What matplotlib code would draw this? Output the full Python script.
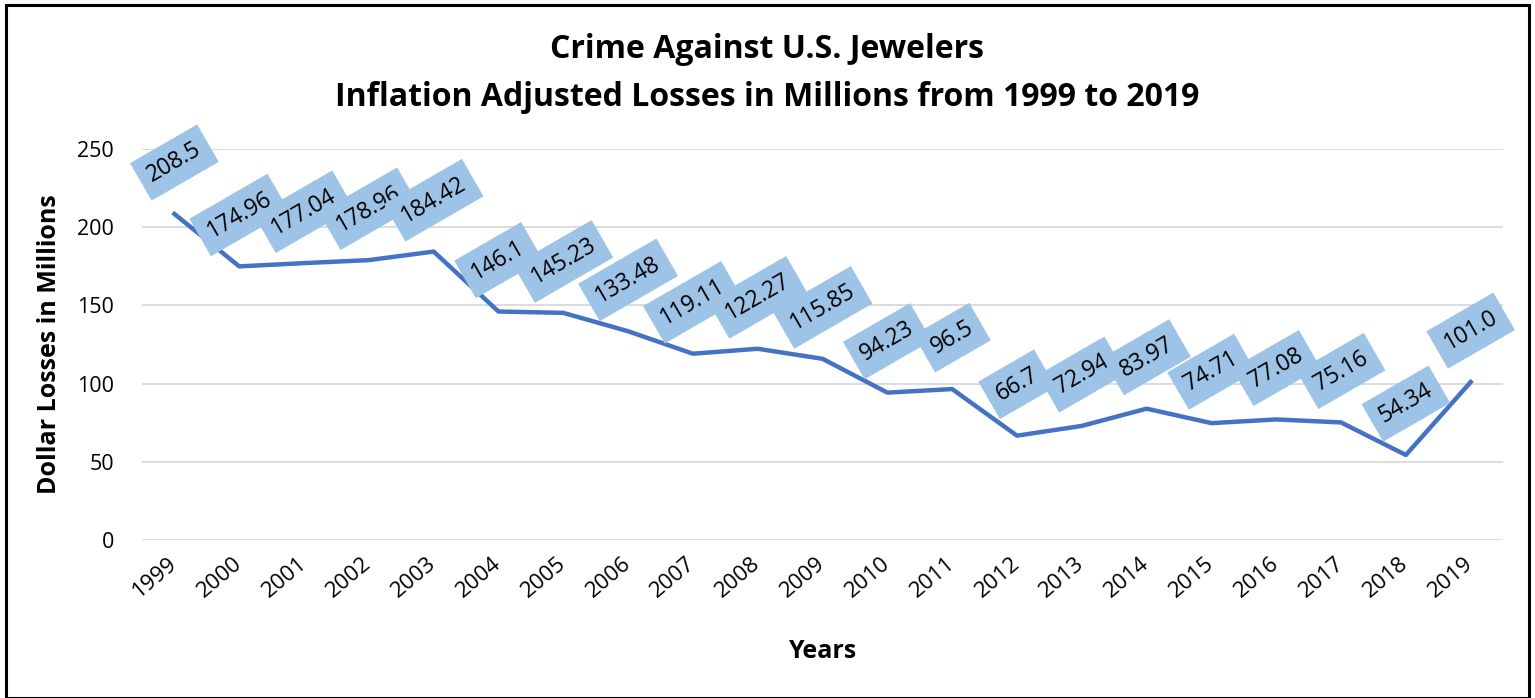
import matplotlib.pyplot as plt
from matplotlib.patches import Rectangle

years = ['1999', '2000', '2001', '2002', '2003', '2004', '2005', '2006', '2007', '2008',
         '2009', '2010', '2011', '2012', '2013', '2014', '2015', '2016', '2017', '2018', '2019']
losses = [208.5, 174.96, 177.04, 178.96, 184.42, 146.1, 145.23, 133.48, 119.11, 122.27,
          115.85, 94.23, 96.5, 66.7, 72.94, 83.97, 74.71, 77.08, 75.16, 54.34, 101.0]
point_labels = ['208.5', '174.96', '177.04', '178.96', '184.42', '146.1', '145.23', '133.48',
                '119.11', '122.27', '115.85', '94.23', '96.5', '66.7', '72.94', '83.97',
                '74.71', '77.08', '75.16', '54.34', '101.0']
yticks = [0, 50, 100, 150, 200, 250]

plt.rcParams['font.family'] = ['Open Sans', 'DejaVu Sans']

fig = plt.figure(figsize=(15.35, 6.98), dpi=100)
ax = fig.add_axes([0.0925, 0.2264, 0.8867, 0.5601])

x = list(range(len(years)))
ax.plot(x, losses, color='#4472C4', linewidth=3.2, solid_joinstyle='round', zorder=3)

for xi, yi, lab in zip(x, losses, point_labels):
    ax.annotate(lab, (xi, yi), xytext=(0, 37), textcoords='offset points',
                ha='center', va='center', rotation=30, fontsize=16.5, color='black',
                bbox=dict(boxstyle='square,pad=0.42', fc='#9DC3E6', ec='none'), zorder=4)

ax.set_xlim(-0.5, len(years) - 0.5)
ax.set_ylim(0, 250)
ax.set_yticks(yticks)
ax.set_xticks(x)
ax.set_xticklabels(years, rotation=40, ha='right', va='center', rotation_mode='anchor', fontsize=16)
ax.tick_params(axis='y', labelsize=15.5, length=0, pad=20)
ax.tick_params(axis='x', length=0, pad=15)
ax.grid(axis='y', color='#D9D9D9', linewidth=1.3)
ax.set_axisbelow(True)
for s in ax.spines.values():
    s.set_visible(False)

ax.set_ylabel('Dollar Losses in Millions', fontsize=18, fontweight='bold', labelpad=11)
ax.set_xlabel('Years', fontsize=18, fontweight='bold', labelpad=27)

fig.text(0.5, 0.929, 'Crime Against U.S. Jewelers', ha='center', va='center',
         fontsize=23, fontweight='bold')
fig.text(0.5, 0.86, 'Inflation Adjusted Losses in Millions from 1999 to 2019', ha='center',
         va='center', fontsize=23, fontweight='bold')

fig.patches.append(Rectangle((0.004, 0.0), 0.992, 0.993, transform=fig.transFigure,
                             fill=False, ec='black', lw=2.2))

fig.savefig('out.png', dpi=100)
